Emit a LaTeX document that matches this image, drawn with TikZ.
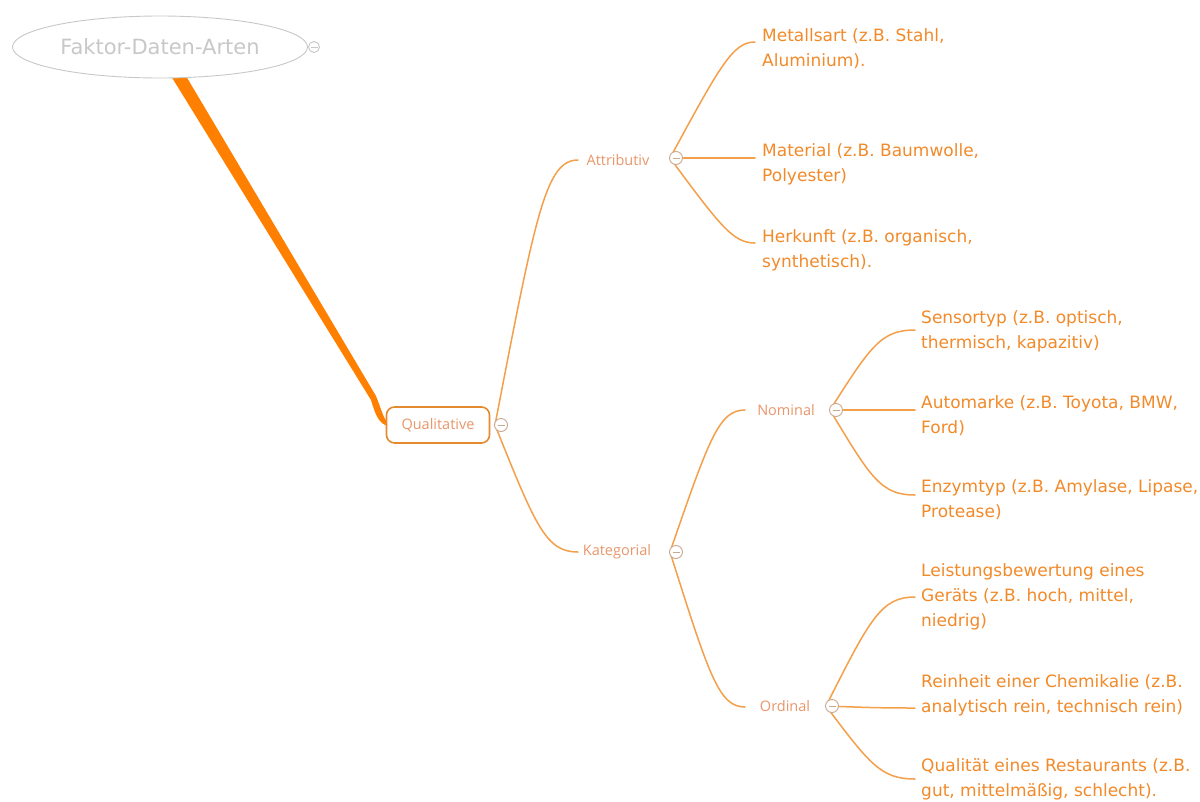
\documentclass[tikz,border=0pt]{standalone}
\usepackage{fontspec}
\setmainfont{DejaVu Sans}
\newfontfamily\midfont{Open Sans}
\usetikzlibrary{shapes.geometric,calc}

\definecolor{mapOrange}{HTML}{FF8000}
\definecolor{branch}{HTML}{F4A04A}
\definecolor{boxEdge}{HTML}{E48A2E}
\definecolor{leafText}{HTML}{F28A2A}
\definecolor{midText}{HTML}{E9966A}
\definecolor{rootGray}{HTML}{C8C8C8}
\definecolor{knob}{HTML}{C9A890}

\tikzset{
  leaf/.style={anchor=west, align=left, inner sep=0pt, text=leafText,
    font=\fontsize{17}{25}\selectfont},
  midlabel/.style={text=midText, inner sep=0pt,
    font=\midfont\fontsize{14.5}{17}\selectfont},
  branchline/.style={draw=branch, line width=1.5pt, line cap=round},
  knobnode/.style={circle, draw=#1, line width=0.9pt, minimum size=13pt,
    inner sep=0pt, fill=white,
    path picture={\draw[#1, line width=1pt]
      ([xshift=-3.5pt]path picture bounding box.center) --
      ([xshift=3.5pt]path picture bounding box.center);}},
  knobnode/.default=knob,
  mm/.style={to path={let \p2=(\tikztotarget) in
    (\tikztostart) .. controls ($(\tikztostart)!0.8!(\x2-#1pt,\y2)$)
    and (\x2-#1pt,\y2) .. (\tikztotarget)}},
  mm/.default=30,
}

\begin{document}
\begin{tikzpicture}[x=1pt,y=-1pt]
  \useasboundingbox[fill=white] (0,0) rectangle (1200,801);

  % main branch from the central topic down to "Qualitative", tapering
  \fill[mapOrange] (171,76) -- (186,76) -- (376,396)
    .. controls (381,408) and (383,418) .. (388,423) -- (388,426)
    .. controls (379,424) and (375,414) .. (371,400) -- cycle;

  % central topic
  \node[ellipse, draw=rootGray, line width=0.9pt, fill=white,
        minimum width=295, minimum height=62, text=rootGray,
        font=\fontsize{21}{25}\selectfont] (root) at (160,47) {Faktor-Daten-Arten};
  \node[knobnode=rootGray, minimum size=11pt] (k-root) at (314,47) {};

  % first level
  \node[draw=boxEdge, line width=1.6pt, rounded corners=8pt, fill=white,
        minimum width=103, minimum height=36, text=midText,
        font=\midfont\fontsize{14.5}{17}\selectfont] (qual) at (438,425) {Qualitative};
  \coordinate (k-qual) at (501,425);

  % second level
  \node[midlabel] (attr) at (618,160) {Attributiv};
  \node[midlabel] (kat) at (617,552) {Kategorial};
  \coordinate (attr-in) at (578,160);
  \coordinate (kat-in) at (578,552);

  % third level
  \node[midlabel] (nom) at (786,410) {Nominal};
  \node[midlabel] (ord) at (785,706) {Ordinal};
  \coordinate (nom-in) at (745,410);
  \coordinate (ord-in) at (745,707);

  % leaves of "Attributiv"
  \node[leaf] (metal) at (762,49) {Metallsart (z.B. Stahl,\\Aluminium).};
  \node[leaf] (mat) at (762,164) {Material (z.B. Baumwolle,\\Polyester)};
  \node[leaf] (herk) at (762,250) {Herkunft (z.B. organisch,\\synthetisch).};
  \coordinate (metal-in) at (755,42);
  \coordinate (mat-in) at (755,158);
  \coordinate (herk-in) at (755,243);

  % leaves of "Nominal"
  \node[leaf] (sens) at (921,331) {Sensortyp (z.B. optisch,\\thermisch, kapazitiv)};
  \node[leaf] (auto) at (921,416) {Automarke (z.B. Toyota, BMW,\\Ford)};
  \node[leaf] (enz) at (921,500) {Enzymtyp (z.B. Amylase, Lipase,\\Protease)};
  \coordinate (sens-in) at (915,330);
  \coordinate (auto-in) at (915,410);
  \coordinate (enz-in) at (915,495);

  % leaves of "Ordinal"
  \node[leaf] (leist) at (921,597) {Leistungsbewertung eines\\Geräts (z.B. hoch, mittel,\\niedrig)};
  \node[leaf] (rein) at (921,695) {Reinheit einer Chemikalie (z.B.\\analytisch rein, technisch rein)};
  \node[leaf] (qualr) at (921,779) {Qualität eines Restaurants (z.B.\\gut, mittelmäßig, schlecht).};
  \coordinate (leist-in) at (915,597);
  \coordinate (rein-in) at (915,708);
  \coordinate (qualr-in) at (915,779);

  % button positions
  \coordinate (k-attr) at (676,158);
  \coordinate (k-kat) at (676,552);
  \coordinate (k-nom) at (836,410);
  \coordinate (k-ord) at (832,706);

  % connectors, each leaving the left side of its button
  \draw[branchline] ([xshift=-6pt]k-qual) to[mm=32] (attr-in);
  \draw[branchline] ([xshift=-6pt]k-qual) to[mm=32] (kat-in);

  \draw[branchline] ([xshift=-6pt]k-attr) to[mm=22] (metal-in);
  \draw[branchline] ([xshift=-6pt]k-attr) to[mm=22] (mat-in);
  \draw[branchline] ([xshift=-6pt]k-attr) to[mm=22] (herk-in);

  \draw[branchline] ([xshift=-6pt]k-kat) to[mm=26] (nom-in);
  \draw[branchline] ([xshift=-6pt]k-kat) to[mm=26] (ord-in);

  \draw[branchline] ([xshift=-6pt]k-nom) to[mm=34] (sens-in);
  \draw[branchline] ([xshift=-6pt]k-nom) to[mm=34] (auto-in);
  \draw[branchline] ([xshift=-6pt]k-nom) to[mm=34] (enz-in);

  \draw[branchline] ([xshift=-6pt]k-ord) to[mm=34] (leist-in);
  \draw[branchline] ([xshift=-6pt]k-ord) to[mm=34] (rein-in);
  \draw[branchline] ([xshift=-6pt]k-ord) to[mm=34] (qualr-in);

  % collapse buttons on top of their connectors
  \node[knobnode] (b-qual) at (k-qual) {};
  \node[knobnode] (b-attr) at (k-attr) {};
  \node[knobnode] (b-kat) at (k-kat) {};
  \node[knobnode] (b-nom) at (k-nom) {};
  \node[knobnode] (b-ord) at (k-ord) {};
\end{tikzpicture}
\end{document}
